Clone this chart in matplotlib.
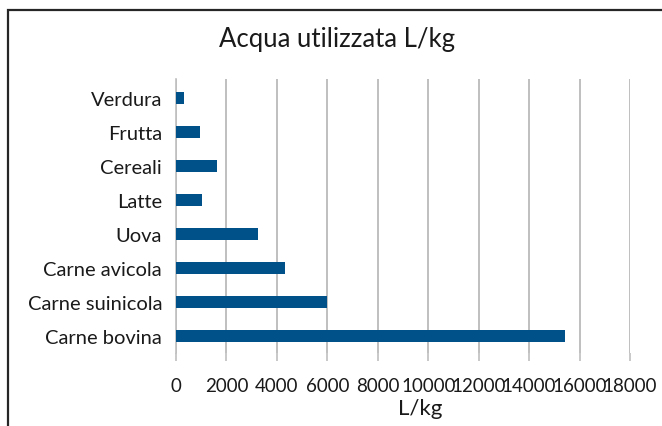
import matplotlib.pyplot as plt
from matplotlib.patches import Rectangle

categorie = ['Carne bovina', 'Carne suinicola', 'Carne avicola', 'Uova',
             'Latte', 'Cereali', 'Frutta', 'Verdura']
litri = [15415, 5988, 4325, 3265, 1020, 1644, 962, 322]
xticks = [0, 2000, 4000, 6000, 8000, 10000, 12000, 14000, 16000, 18000]

plt.rcParams['font.family'] = ['Lato', 'DejaVu Sans']

fig = plt.figure(figsize=(6.62, 4.27), dpi=100)
ax = fig.add_axes([176 / 662, 1 - 354 / 427, 454 / 662, 274 / 427])

# bordo del grafico (tagliato a destra e in basso)
fig.patches.append(Rectangle((8 / 662, -0.1), 1.2, 1 - 11 / 427 + 0.1,
                             transform=fig.transFigure, fill=False,
                             edgecolor='#262626', linewidth=1.6))

ax.barh(range(len(categorie)), litri, height=0.35, color='#00508a', zorder=3)
ax.set_xlim(0, 18000)
ax.set_ylim(-0.5, 7.55)
ax.set_xticks(xticks)
ax.set_xticklabels([str(t) for t in xticks], fontsize=13.5, color='#1a1a1a')
ax.set_yticks(range(len(categorie)))
ax.set_yticklabels(categorie, fontsize=14.5, color='#1a1a1a')
ax.tick_params(axis='y', length=0, pad=10)
ax.tick_params(axis='x', length=6, width=1.2, color='#bfbfbf', pad=11)
ax.grid(axis='x', color='#bfbfbf', linewidth=1.4, zorder=0)
for s in ['top', 'right', 'bottom']:
    ax.spines[s].set_visible(False)
ax.spines['left'].set_color('#bfbfbf')
ax.spines['left'].set_linewidth(1.2)

ax.set_xlabel('L/kg', fontsize=16, color='#1a1a1a')
ax.xaxis.set_label_coords((420 - 176) / 454, -0.165)
fig.text(337 / 662, 1 - 40 / 427, 'Acqua utilizzata L/kg', fontsize=18.5,
         color='#1a1a1a', ha='center', va='center')

fig.savefig('out.png', dpi=100, facecolor='white')
